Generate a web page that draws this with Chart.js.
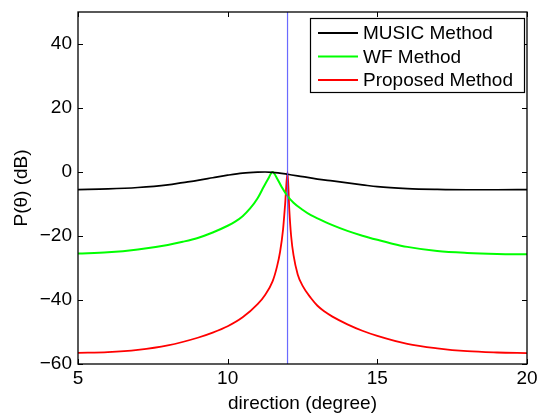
<!DOCTYPE html>
<html>
<head>
<meta charset="utf-8">
<script src="https://cdn.jsdelivr.net/npm/chart.js@4.4.0/dist/chart.umd.min.js"></script>
<style>
  html, body { margin: 0; padding: 0; background: #fff; }
  #wrap { width: 541px; height: 419px; }
</style>
</head>
<body>
<div id="wrap"><canvas id="doaChart"></canvas></div>
<script>
// spectra (direction in degrees, power in dB)
const musicX = [5, 6, 7, 8, 8.5, 9, 9.5, 10, 10.5, 11, 11.25, 11.5, 12, 12.5, 13, 13.5, 14, 14.5, 15, 16, 17, 18, 19, 20];
const musicY = [-5.5, -5.3, -4.85, -4.0, -3.3, -2.6, -1.8, -1.0, -0.35, -0.05, 0, -0.1, -0.7, -1.45, -2.2, -2.8, -3.4, -4.0, -4.6, -5.2, -5.45, -5.55, -5.55, -5.5];

const wfX = [5, 6, 7, 8, 8.5, 9, 9.5, 10, 10.25, 10.5, 10.75, 11, 11.2, 11.35, 11.5, 11.65, 11.8, 12, 12.2, 12.5, 12.78, 13, 13.5, 14, 14.5, 15, 15.5, 16, 17, 18, 19, 20];
const wfY = [-25.5, -25.1, -24.2, -22.8, -21.8, -20.6, -18.9, -16.8, -15.5, -13.8, -11.4, -8.2, -4.7, -2.2, 0, -2.0, -4.6, -7.5, -9.6, -11.8, -13.5, -14.5, -16.6, -18.4, -19.9, -21.2, -22.4, -23.4, -24.7, -25.3, -25.6, -25.7];

const propX = [5, 6, 7, 8, 9, 9.5, 10, 10.5, 11, 11.25, 11.5, 11.65, 11.75, 11.85, 11.92, 12, 12.06, 12.12, 12.2, 12.34, 12.5, 12.78, 13, 13.25, 13.5, 14, 14.5, 15, 16, 17, 18, 19, 20];
const propY = [-56.5, -56.3, -55.6, -54.2, -51.8, -50.2, -48.2, -45.4, -41.3, -38.4, -34.2, -29.5, -25.0, -18.0, -10.0, 0, -12.0, -20.0, -26.0, -32.0, -35.5, -39.4, -41.8, -43.7, -45.2, -47.6, -49.6, -51.2, -53.7, -55.1, -56.0, -56.4, -56.6];

const trueDirection = 12;
const seriesNames = ['MUSIC Method', 'WF Method', 'Proposed Method'];
const seriesColors = ['#000000', '#00ff00', '#ff0000'];
const xTicks = [5, 10, 15, 20];
const yTicks = [-60, -40, -20, 0, 20, 40];

const FONT = '"Liberation Sans", Arial, Helvetica, sans-serif';
const FS = 19;

const toPoints = (xs, ys) => xs.map((x, i) => ({x: x, y: ys[i]}));

// MATLAB-ish box, inward ticks on all sides and the boxed legend
const framePlugin = {
  id: 'frame',
  afterDraw(chart) {
    const {ctx, chartArea: a, scales: {x, y}} = chart;
    ctx.save();
    ctx.strokeStyle = '#000';
    ctx.lineWidth = 1.3;
    ctx.strokeRect(a.left, a.top, a.right - a.left, a.bottom - a.top);
    ctx.lineWidth = 1;
    const tl = 5;
    ctx.beginPath();
    xTicks.forEach(v => {
      const px = Math.round(x.getPixelForValue(v)) + 0.5;
      ctx.moveTo(px, a.bottom); ctx.lineTo(px, a.bottom - tl);
      ctx.moveTo(px, a.top); ctx.lineTo(px, a.top + tl);
    });
    yTicks.forEach(v => {
      const py = Math.round(y.getPixelForValue(v)) + 0.5;
      ctx.moveTo(a.left, py); ctx.lineTo(a.left + tl, py);
      ctx.moveTo(a.right, py); ctx.lineTo(a.right - tl, py);
    });
    ctx.stroke();

    // legend
    const bx = 310, by = 18, bw = a.right - 3 - bx, bh = 74;
    ctx.fillStyle = '#fff';
    ctx.fillRect(bx, by, bw, bh);
    ctx.lineWidth = 1.2;
    ctx.strokeRect(bx + 0.5, by + 0.5, bw, bh);
    ctx.font = FS + 'px ' + FONT;
    ctx.textBaseline = 'middle';
    ctx.textAlign = 'left';
    seriesNames.forEach((name, i) => {
      const ly = by + 15 + i * 23.5;
      ctx.strokeStyle = seriesColors[i];
      ctx.lineWidth = 1.8;
      ctx.beginPath();
      ctx.moveTo(bx + 8, ly); ctx.lineTo(bx + 48, ly);
      ctx.stroke();
      ctx.fillStyle = '#000';
      ctx.fillText(name, bx + 53, ly + 1);
    });
    ctx.restore();
  }
};

const ctx = document.getElementById('doaChart').getContext('2d');
const doaChart = new Chart(ctx, {
  type: 'line',
  data: {
    datasets: [
      {
        label: 'true direction',
        data: [{x: trueDirection, y: -60}, {x: trueDirection, y: 50}],
        borderColor: 'rgba(80, 80, 255, 0.85)',
        borderWidth: 1.2,
        pointRadius: 0
      },
      {
        label: seriesNames[0],
        data: toPoints(musicX, musicY),
        borderColor: seriesColors[0],
        borderWidth: 1.7,
        pointRadius: 0,
        cubicInterpolationMode: 'monotone'
      },
      {
        label: seriesNames[1],
        data: toPoints(wfX, wfY),
        borderColor: seriesColors[1],
        borderWidth: 2,
        pointRadius: 0,
        cubicInterpolationMode: 'monotone'
      },
      {
        label: seriesNames[2],
        data: toPoints(propX, propY),
        borderColor: seriesColors[2],
        borderWidth: 1.8,
        pointRadius: 0,
        cubicInterpolationMode: 'monotone'
      }
    ]
  },
  options: {
    responsive: true,
    maintainAspectRatio: false,
    animation: false,
    layout: { padding: { top: 12, right: 14, left: 0, bottom: 0 } },
    plugins: {
      legend: { display: false },
      tooltip: { enabled: false }
    },
    scales: {
      x: {
        type: 'linear',
        min: 5,
        max: 20,
        afterBuildTicks: s => { s.ticks = xTicks.map(v => ({value: v})); },
        afterFit: s => { s.height = 55; s.paddingLeft = 0; s.paddingRight = 0; },
        grid: { display: false, drawTicks: false },
        border: { display: false },
        ticks: {
          color: '#000',
          padding: 3,
          maxRotation: 0,
          font: { family: FONT, size: FS }
        },
        title: {
          display: true,
          text: 'direction (degree)',
          color: '#000',
          padding: { top: 0, bottom: 4 },
          font: { family: FONT, size: FS }
        }
      },
      y: {
        type: 'linear',
        min: -60,
        max: 50,
        afterBuildTicks: s => { s.ticks = yTicks.map(v => ({value: v})); },
        afterFit: s => { s.width = 78; s.paddingTop = 0; s.paddingBottom = 0; },
        grid: { display: false, drawTicks: false },
        border: { display: false },
        ticks: {
          color: '#000',
          padding: 6,
          font: { family: FONT, size: FS },
          callback: v => String(v).replace('-', '\u2212')
        },
        title: {
          display: true,
          text: 'P(\u03b8) (dB)',
          color: '#000',
          padding: { top: 10, bottom: 0 },
          font: { family: FONT, size: FS }
        }
      }
    }
  },
  plugins: [framePlugin]
});
</script>
</body>
</html>
